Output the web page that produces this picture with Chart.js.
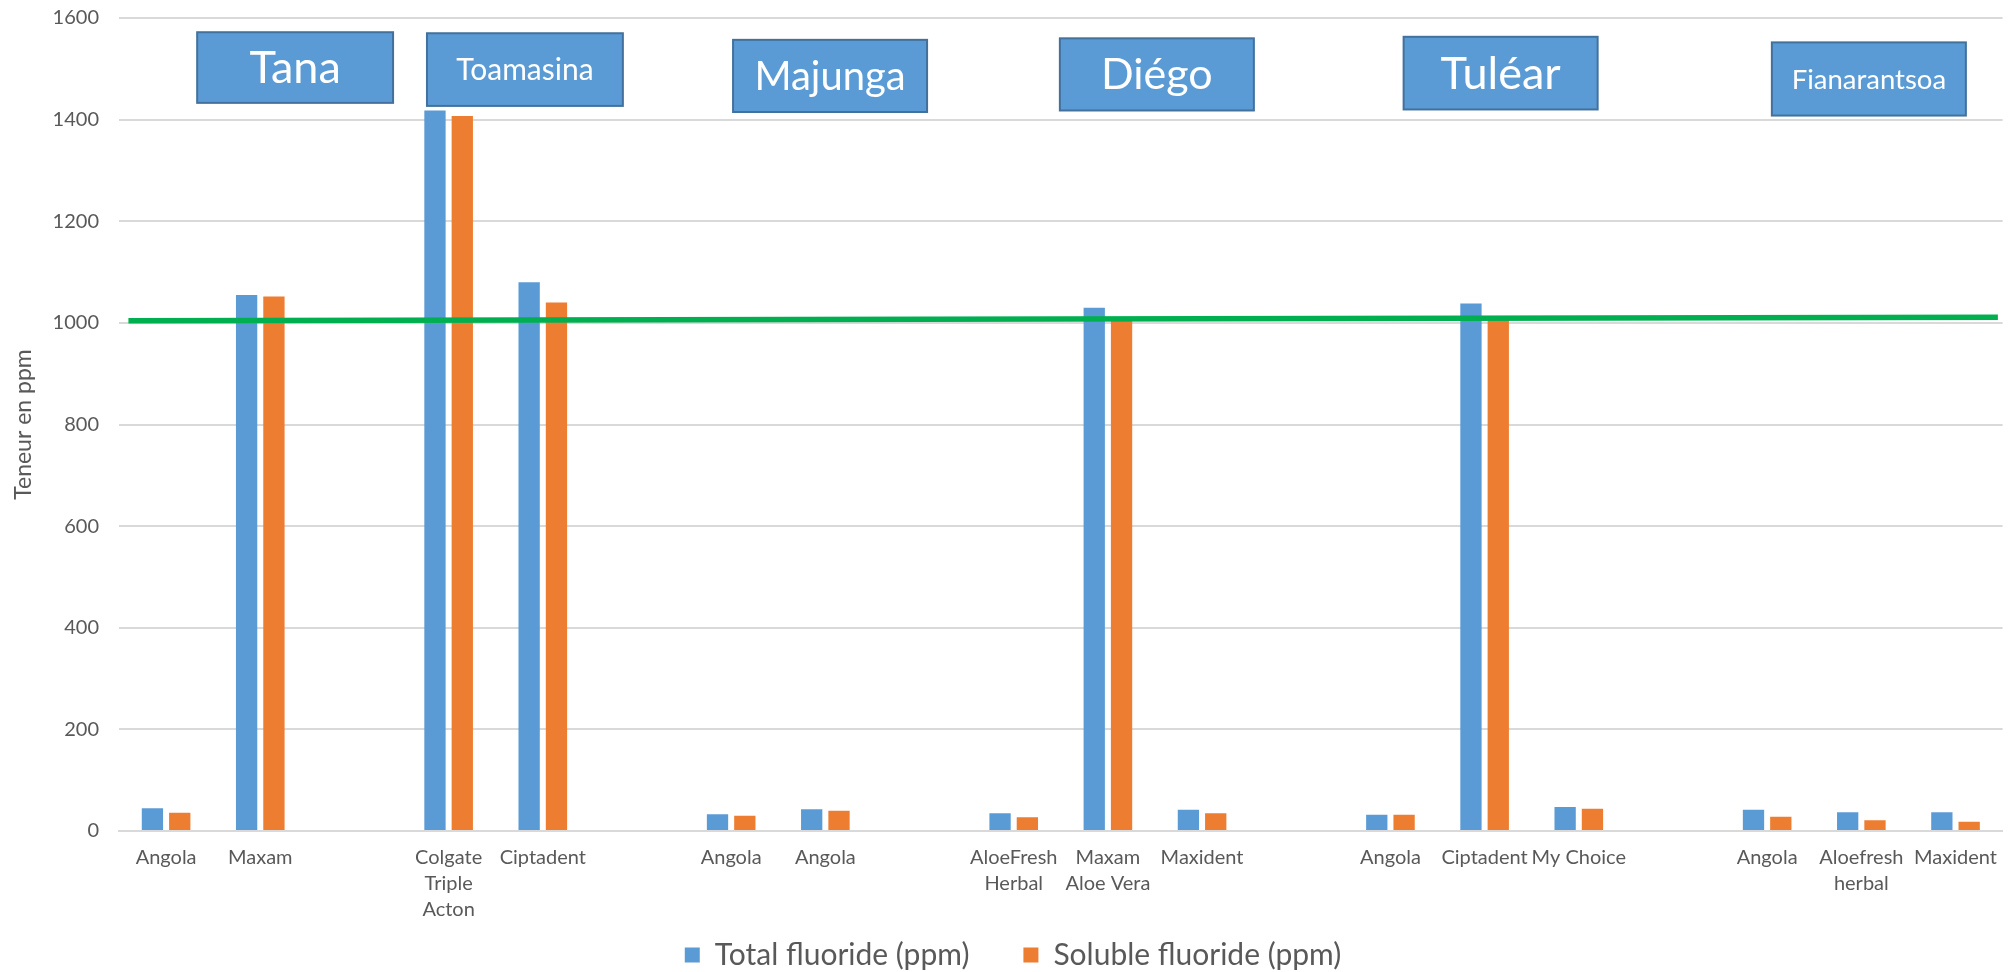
<!DOCTYPE html>
<html>
<head>
<meta charset="utf-8">
<script src="https://cdn.jsdelivr.net/npm/chart.js@4.4.1/dist/chart.umd.min.js"></script>
<style>
  html, body { margin: 0; padding: 0; background: #fff; }
</style>
</head>
<body>
<canvas id="fluorideChart" width="2011" height="972"></canvas>
<script>
// brands per town, empty entries are the gaps between towns
const brands = [
  'Angola', 'Maxam', '',
  ['Colgate', 'Triple', 'Acton'], 'Ciptadent', '',
  'Angola', 'Angola', '',
  ['AloeFresh', 'Herbal'], ['Maxam', 'Aloe Vera'], 'Maxident', '',
  'Angola', 'Ciptadent', 'My Choice', '',
  'Angola', ['Aloefresh', 'herbal'], 'Maxident'
];
const totalFluoride = [45, 1055, null, 1418, 1080, null, 33, 43, null, 35, 1030, 42, null, 32, 1038, 47, null, 42, 37, 37];
const solubleFluoride = [36, 1052, null, 1407, 1040, null, 30, 40, null, 27, 1008, 35, null, 32, 1008, 44, null, 28, 21, 18];
const seriesNames = ['Total fluoride (ppm)', 'Soluble fluoride (ppm)'];
const towns = ['Tana', 'Toamasina', 'Majunga', 'Diégo', 'Tuléar', 'Fianarantsoa'];

// the hand drawn 1000 ppm reference line (start / end, in category index units)
const refLineX = [-0.40, 19.45];
const refLineY = [1004, 1011];

const yTicks = { min: 0, max: 1600, step: 200 };

// where the town boxes sit, in category index / ppm units
const townBoxes = [
  { from: 0.33, to: 2.41, top: 1572, bottom: 1433, size: 45 },
  { from: 2.77, to: 4.85, top: 1570, bottom: 1427, size: 30 },
  { from: 6.02, to: 8.08, top: 1557, bottom: 1415, size: 40 },
  { from: 9.49, to: 11.55, top: 1560, bottom: 1418, size: 43 },
  { from: 13.14, to: 15.20, top: 1563, bottom: 1420, size: 45 },
  { from: 17.05, to: 19.11, top: 1552, bottom: 1408, size: 27.5 }
];

const FONT = 'Lato, "Open Sans", sans-serif';
const GREY = '#595959';
const LEGEND_LIFT = 45;
const LEGEND_SHIFT = 8;

Chart.defaults.font.family = FONT;
Chart.defaults.color = GREY;

/**
 * Draws the blue town labels on top of the plot
 */
const townBoxPlugin = {
  id: 'townBoxes',
  afterDatasetsDraw(chart) {
    const { ctx, scales: { x, y } } = chart;
    ctx.save();
    townBoxes.forEach((b, i) => {
      const left = x.getPixelForValue(b.from);
      const right = x.getPixelForValue(b.to);
      const top = y.getPixelForValue(b.top);
      const bottom = y.getPixelForValue(b.bottom);
      ctx.fillStyle = '#5B9BD5';
      ctx.fillRect(left, top, right - left, bottom - top);
      ctx.strokeStyle = '#41719C';
      ctx.lineWidth = 2;
      ctx.strokeRect(left, top, right - left, bottom - top);
      ctx.fillStyle = '#ffffff';
      ctx.font = `${b.size}px ${FONT}`;
      ctx.textAlign = 'center';
      ctx.textBaseline = 'middle';
      ctx.fillText(towns[i], (left + right) / 2, (top + bottom) / 2 + 1);
    });
    ctx.restore();
  }
};

/**
 * The legend uses its label padding both for the gap between items and
 * above them, so stretch its box upwards once the layout is done
 */
const liftLegendPlugin = {
  id: 'liftLegend',
  afterLayout(chart) {
    const legend = chart.legend;
    if (!legend) return;
    legend.top -= LEGEND_LIFT;
    legend.left += LEGEND_SHIFT;
    legend.right += LEGEND_SHIFT;
  }
};

function initializeChart() {
  const ctx = document.getElementById('fluorideChart').getContext('2d');
  new Chart(ctx, {
    type: 'bar',
    data: {
      labels: brands,
      datasets: [
        {
          label: seriesNames[0],
          data: totalFluoride,
          backgroundColor: '#5B9BD5',
          xAxisID: 'x',
          order: 2,
          categoryPercentage: 0.58,
          barPercentage: 0.78
        },
        {
          label: seriesNames[1],
          data: solubleFluoride,
          backgroundColor: '#ED7D31',
          xAxisID: 'x',
          order: 2,
          categoryPercentage: 0.58,
          barPercentage: 0.78
        },
        {
          // pre-parsed so the ends can sit between categories
          type: 'line',
          label: 'ref',
          parsing: false,
          data: refLineX.map((v, i) => ({ x: v, y: refLineY[i] })),
          xAxisID: 'x',
          borderColor: '#00B050',
          borderWidth: 5.5,
          pointRadius: 0,
          order: 0
        }
      ]
    },
    options: {
      responsive: false,
      animation: false,
      devicePixelRatio: 1,
      layout: { padding: { top: 0, right: 1, left: 0, bottom: 0 } },
      scales: {
        x: {
          type: 'category',
          offset: true,
          grid: { display: false, drawTicks: false },
          border: { display: true, color: '#D9D9D9', width: 2 },
          ticks: {
            autoSkip: false,
            maxRotation: 0,
            minRotation: 0,
            padding: 14,
            color: GREY,
            font: { size: 20, lineHeight: 1.3 }
          },
          afterFit(scale) { scale.height = 100; }
        },
        y: {
          min: yTicks.min,
          max: yTicks.max,
          ticks: {
            stepSize: yTicks.step,
            color: GREY,
            font: { size: 20 },
            padding: 20,
            callback: v => String(v)
          },
          grid: { color: '#D9D9D9', lineWidth: 2, drawTicks: false },
          border: { display: false },
          title: { display: true, text: 'Teneur en ppm', color: GREY, font: { size: 23 }, padding: 10 },
          afterFit(scale) {
            scale.width = 119;
            scale.paddingTop = 18;
          }
        }
      },
      plugins: {
        legend: {
          position: 'bottom',
          maxHeight: 41,
          labels: {
            boxWidth: 15,
            boxHeight: 15,
            padding: 54,
            color: GREY,
            font: { size: 30, lineHeight: 1 },
            filter: item => item.datasetIndex < 2
          }
        },
        tooltip: { enabled: false }
      }
    },
    plugins: [townBoxPlugin, liftLegendPlugin]
  });
}

document.addEventListener('DOMContentLoaded', initializeChart);
</script>
</body>
</html>
